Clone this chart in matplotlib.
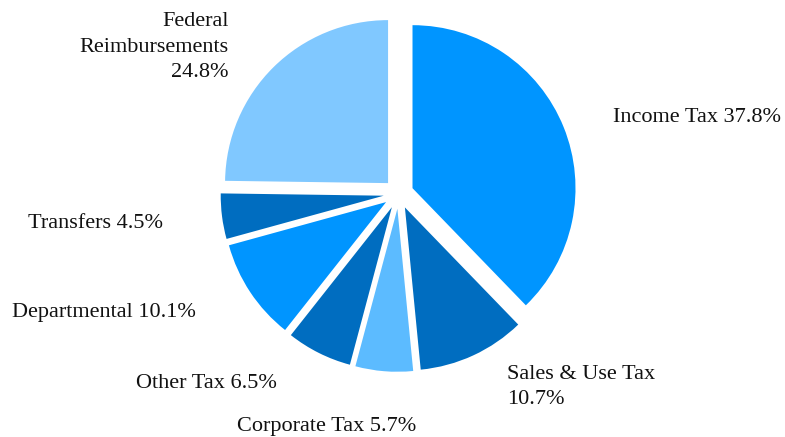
import matplotlib
matplotlib.use("Agg")
import matplotlib.pyplot as plt
import numpy as np

# revenue shares (%), clockwise from 12 o'clock
categories = ["Income Tax", "Sales & Use Tax", "Corporate Tax", "Other Tax",
              "Departmental", "Transfers", "Federal\nReimbursements"]
shares = [37.8, 10.7, 5.7, 6.5, 10.1, 4.5, 24.8]
label_texts = ["Income Tax 37.8%", "Sales & Use Tax\n10.7%", "Corporate Tax 5.7%",
               "Other Tax 6.5%", "Departmental 10.1%", "Transfers 4.5%",
               "Federal\nReimbursements\n24.8%"]

colors = ["#0095FF", "#006DC0", "#5CBBFF", "#006DC0", "#0095FF", "#006DC0", "#80C8FF"]

W, H = 785, 437
plt.rcParams['font.family'] = ['Liberation Serif', 'DejaVu Serif']

fig = plt.figure(figsize=(W / 100, H / 100), dpi=100)
ax = fig.add_axes([0, 0, 1, 1])

r = 163
cx, cy = 398.6, H - 193.8
# explode is in data units here (pixels), since radius isn't 1
ax.pie(shares, colors=colors, startangle=90, counterclock=False,
       radius=r, center=(cx, cy), explode=[15] * len(shares),
       wedgeprops=dict(linewidth=0))
ax.set_xlim(0, W)
ax.set_ylim(0, H)
ax.set_aspect('equal')
ax.axis('off')

# label anchors (pixel coords from top-left) and alignment
label_pos = [(613, 118, 'left'), (507, 387, 'left'), (416, 426, 'right'),
             (277, 383, 'right'), (196, 313, 'right'), (163, 224, 'right'),
             (229, 47, 'right')]
for txt, (x, y, ha) in zip(label_texts, label_pos):
    ax.text(x, H - y, txt, ha=ha, va='center', fontsize=16,
            linespacing=1.45, multialignment=ha, color='#111111')

fig.savefig("out.png", dpi=100)
